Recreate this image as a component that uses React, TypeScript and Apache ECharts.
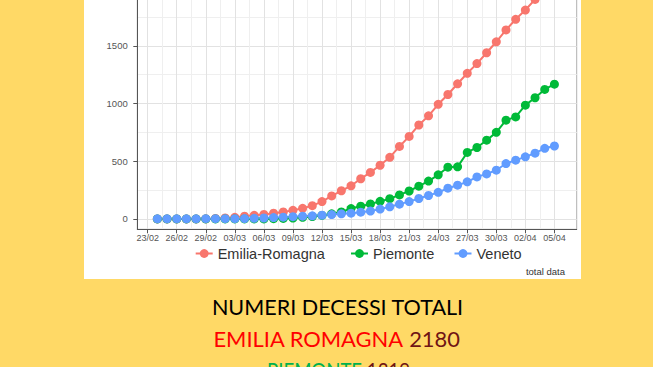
import React, { useEffect, useRef } from "react";
import * as echarts from "echarts";

const dates = [
  "24/02", "25/02", "26/02", "27/02", "28/02", "29/02",
  "01/03", "02/03", "03/03", "04/03", "05/03", "06/03", "07/03", "08/03", "09/03", "10/03",
  "11/03", "12/03", "13/03", "14/03", "15/03", "16/03", "17/03", "18/03", "19/03", "20/03",
  "21/03", "22/03", "23/03", "24/03", "25/03", "26/03", "27/03", "28/03", "29/03", "30/03", "31/03",
  "01/04", "02/04", "03/04", "04/04", "05/04",
];

const tickLabels = [
  "23/02", "26/02", "29/02", "03/03", "06/03", "09/03", "12/03", "15/03",
  "18/03", "21/03", "24/03", "27/03", "30/03", "02/04", "05/04",
];

const yTicks = [0, 500, 1000, 1500];
const yMinorTicks = [250, 750, 1250, 1750, 2250];

const seriesNames = ["Emilia-Romagna", "Piemonte", "Veneto"];

const emiliaRomagna = [
  0, 0, 0, 0, 0, 1, 4, 9, 14, 24, 31, 39, 49, 60, 74, 92, 115, 150, 199, 244, 287,
  348, 403, 465, 534, 628, 715, 814, 893, 993, 1078, 1171, 1262, 1346, 1440, 1535,
  1638, 1730, 1810, 1902, 1990, 2090,
];

const piemonte = [
  0, 0, 0, 0, 0, 0, 0, 0, 0, 0, 0, 0, 2, 4, 8, 14, 21, 30, 44, 60, 90, 110, 130,
  152, 175, 208, 242, 284, 328, 382, 448, 451, 576, 619, 682, 750, 856, 884, 986,
  1050, 1122, 1168,
];

const veneto = [
  1, 1, 1, 1, 1, 2, 2, 2, 2, 3, 5, 8, 12, 15, 19, 24, 27, 32, 38, 44, 50, 58, 68,
  85, 105, 128, 150, 177, 203, 230, 266, 292, 321, 364, 390, 422, 480, 509, 538,
  570, 612, 632,
];

const captionTitle = "NUMERI DECESSI TOTALI";
const captionRegion1 = ["EMILIA ROMAGNA", "2180"];
const captionRegion2 = ["PIEMONTE", "1319"];
const footnote = "total data";

const COLORS = ["#F8766D", "#00BA38", "#619CFF"];
const OFF = 60; // chart div is shifted up by this many px

export default function App() {
  const ref = useRef<HTMLDivElement>(null);

  useEffect(() => {
    const el = ref.current!;
    const chart = echarts.init(el, null, { renderer: "svg" });

    const ctx = document.createElement("canvas").getContext("2d")!;
    const capFont = "21.5px Lato";
    ctx.font = capFont;
    const w = (t: string) => ctx.measureText(t).width || 1;
    const s1 = 252 / w(captionTitle);
    const s2 = 247 / w(captionRegion1.join(" "));
    const s3 = 143 / w(captionRegion2.join(" "));

    const tickDays = tickLabels.map((_, j) => j * 3);
    const minorDays = tickLabels.slice(0, -1).map((_, j) => j * 3 + 1.5);

    const toPairs = (vals: number[]) => dates.map((_, i) => [i + 1, vals[i]]);
    const allValues = [emiliaRomagna, piemonte, veneto];

    const labelFont = "Liberation Sans";
    const legendBase = {
      top: 306,
      itemWidth: 17,
      itemHeight: 11,
      padding: 0,
      selectedMode: false as const,
      textStyle: { fontSize: 14.5, color: "#333", fontFamily: labelFont },
    };

    chart.setOption({
      animation: false,
      backgroundColor: "transparent",
      grid: {
        left: 137.3,
        right: 653 - 576.7,
        top: 13.5,
        bottom: 440 - 289.3,
        show: true,
        borderColor: "#b0b0b0",
        borderWidth: 1,
        backgroundColor: "transparent",
      },
      xAxis: [
        {
          type: "value",
          min: -1.07,
          max: 44.3,
          axisLine: { show: true, onZero: false, lineStyle: { color: "#555", width: 1 } },
          axisTick: { show: true, length: 4, customValues: tickDays, lineStyle: { color: "#555" } },
          axisLabel: {
            customValues: tickDays,
            formatter: (v: number) => tickLabels[Math.round(v / 3)] ?? "",
            fontSize: 9,
            color: "#555",
            margin: 4.5,
            fontFamily: labelFont,
          },
          splitLine: { show: true, lineStyle: { color: "#e2e2e2", width: 1 } },
        },
        {
          type: "value",
          min: -1.07,
          max: 44.3,
          position: "bottom",
          axisLine: { show: false },
          axisTick: { show: false, customValues: minorDays },
          axisLabel: { show: false, customValues: minorDays },
          splitLine: { show: true, lineStyle: { color: "#efefef", width: 1 } },
        },
      ],
      yAxis: [
        {
          type: "value",
          min: -90,
          max: 2300,
          axisLine: { show: true, onZero: false, lineStyle: { color: "#555", width: 1 } },
          axisTick: { show: true, length: 4, customValues: yTicks, lineStyle: { color: "#555" } },
          axisLabel: {
            customValues: yTicks,
            formatter: (v: number) => String(v),
            fontSize: 9.5,
            color: "#555",
            margin: 9.6,
            fontFamily: labelFont,
          },
          splitLine: { show: true, lineStyle: { color: "#e2e2e2", width: 1 } },
        },
        {
          type: "value",
          min: -90,
          max: 2300,
          position: "left",
          axisLine: { show: false },
          axisTick: { show: false, customValues: yMinorTicks },
          axisLabel: { show: false, customValues: yMinorTicks },
          splitLine: { show: true, lineStyle: { color: "#efefef", width: 1 } },
        },
      ],
      legend: [
        { ...legendBase, left: 194.7, data: [seriesNames[0]] },
        { ...legendBase, left: 350, data: [seriesNames[1]] },
        { ...legendBase, left: 453.5, data: [seriesNames[2]] },
      ],
      series: seriesNames.map((name, k) => ({
        name,
        type: "line",
        data: toPairs(allValues[k]),
        symbol: "circle",
        symbolSize: 9,
        showSymbol: true,
        color: COLORS[k],
        itemStyle: { color: COLORS[k] },
        lineStyle: { color: COLORS[k], width: 2 },
        xAxisIndex: 0,
        yAxisIndex: 0,
      })),
      graphic: [
        {
          type: "text",
          x: 565,
          y: 271 + OFF,
          style: {
            text: footnote,
            align: "right",
            verticalAlign: "middle",
            fontSize: 9.5,
            fontFamily: labelFont,
            fill: "#333",
          },
        },
        {
          type: "text",
          x: 337.5,
          y: 307.5 + OFF,
          scaleX: s1,
          style: {
            text: captionTitle,
            align: "center",
            verticalAlign: "middle",
            font: capFont,
            fill: "#000",
          },
        },
        {
          type: "text",
          x: 336.5,
          y: 338.8 + OFF,
          scaleX: s2,
          style: {
            text: `{a|${captionRegion1[0]}} {b|${captionRegion1[1]}}`,
            align: "center",
            verticalAlign: "middle",
            font: capFont,
            fill: "#000",
            rich: {
              a: { font: capFont, fill: "#FF0000" },
              b: { font: capFont, fill: "#701515" },
            },
          },
        },
        {
          type: "text",
          x: 338.5,
          y: 369.3 + OFF,
          scaleX: s3,
          style: {
            text: `{a|${captionRegion2[0]}} {b|${captionRegion2[1]}}`,
            align: "center",
            verticalAlign: "middle",
            font: capFont,
            fill: "#000",
            rich: {
              a: { font: capFont, fill: "#00B050" },
              b: { font: capFont, fill: "#701515" },
            },
          },
        },
      ],
    });

    return () => chart.dispose();
  }, []);

  return (
    <div
      style={{
        position: "fixed",
        left: 0,
        top: 0,
        width: 653,
        height: 367,
        overflow: "hidden",
        background: "#FFD966",
      }}
    >
      <div
        style={{ position: "absolute", left: 84, top: 0, width: 497, height: 279, background: "#fff" }}
      />
      <div ref={ref} style={{ position: "absolute", left: 0, top: -OFF, width: 653, height: 440 }} />
    </div>
  );
}
